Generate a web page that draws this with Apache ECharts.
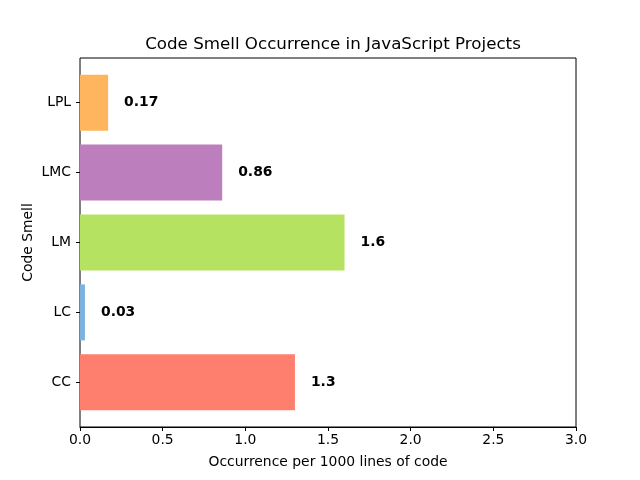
<!DOCTYPE html>
<html>
<head>
<meta charset="utf-8">
<script src="https://cdn.jsdelivr.net/npm/echarts@6/dist/echarts.min.js"></script>
<style>html,body{margin:0;padding:0;background:#fff}#c{width:640px;height:480px}</style>
</head>
<body>
<div id="c"></div>
<script>
const categories = ['CC', 'LC', 'LM', 'LMC', 'LPL'];
const values = [1.3, 0.03, 1.6, 0.86, 0.17];
const colors = ['#ff7f6e', '#7eb2de', '#b5e361', '#bc7ebc', '#ffb55e'];
const xTicks = [0, 0.5, 1.0, 1.5, 2.0, 2.5, 3.0];

const font = 'DejaVu Sans';
const chart = echarts.init(document.getElementById('c'), null, {renderer: 'canvas'});
chart.setOption({
  animation: false,
  backgroundColor: '#fff',
  title: {
    text: 'Code Smell Occurrence in JavaScript Projects',
    left: 328, top: 31, textAlign: 'center',
    textStyle: {fontFamily: font, fontSize: 16.7, fontWeight: 'normal', color: '#000'}
  },
  grid: [
    {left: 80, right: 64, top: 58, bottom: 53, show: true, borderColor: '#000', borderWidth: 1, backgroundColor: 'transparent'},
    {left: 80, right: 64, top: 67.75, bottom: 62.75}
  ],
  xAxis: [
    {
      gridIndex: 0, type: 'value', min: xTicks[0], max: xTicks[xTicks.length - 1], interval: 0.5,
      name: 'Occurrence per 1000 lines of code', nameLocation: 'middle', nameGap: 28,
      nameTextStyle: {fontFamily: font, fontSize: 13.9, color: '#000'},
      axisLine: {show: true, lineStyle: {color: '#000', width: 1}},
      axisTick: {show: true, length: 4, lineStyle: {color: '#000'}},
      axisLabel: {fontFamily: font, fontSize: 13.9, color: '#000', margin: 6, formatter: v => v.toFixed(1)},
      splitLine: {show: false}
    },
    {gridIndex: 1, type: 'value', min: 0, max: 3, show: false}
  ],
  yAxis: [
    {gridIndex: 0, type: 'value', show: false, min: 0, max: 1},
    {
      gridIndex: 1, type: 'category', data: categories,
      name: 'Code Smell', nameLocation: 'middle', nameGap: 45, nameMoveOverlap: false,
      nameTextStyle: {fontFamily: font, fontSize: 13.9, color: '#000'},
      axisLine: {show: false},
      axisTick: {show: true, alignWithLabel: true, length: 4, lineStyle: {color: '#000'}},
      axisLabel: {fontFamily: font, fontSize: 13.9, color: '#000', margin: 9}
    }
  ],
  series: [{
    type: 'bar', xAxisIndex: 1, yAxisIndex: 1,
    barWidth: 56,
    data: values.map((v, i) => ({value: v, itemStyle: {color: colors[i]}})),
    label: {
      show: true, position: 'right', distance: 16,
      fontFamily: font, fontSize: 13.9, fontWeight: 'bold', color: '#000',
      formatter: p => String(p.value)
    }
  }]
});
</script>
</body>
</html>
